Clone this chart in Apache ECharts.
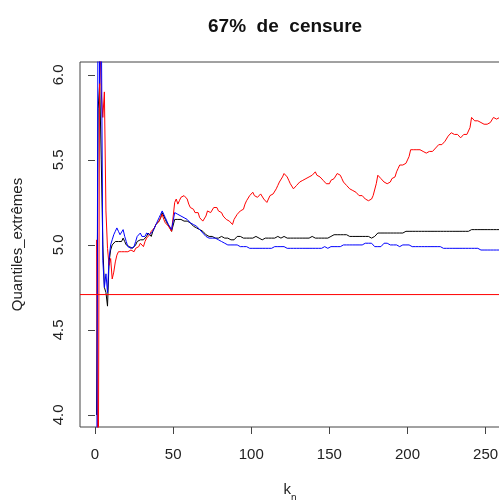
<!DOCTYPE html>
<html>
<head>
<meta charset="utf-8">
<script src="https://cdn.jsdelivr.net/npm/echarts@6/dist/echarts.min.js"></script>
<style>
html,body{margin:0;padding:0;background:#fff;}
#chart{width:499px;height:500px;}
</style>
</head>
<body>
<div id="chart"></div>
<script>
var titleText = "67%  de  censure";
var yName = "Quantiles_extrêmes";
var xTicks = [0, 50, 100, 150, 200, 250];
var yTicks = [4.0, 4.5, 5.0, 5.5, 6.0];
var refLevel = 4.708;
var xRange = [-9.6, 259.2];
var yRange = [3.929, 6.076];

var redValues = [
5.03, 3.20, 6.30, 5.90, 5.75, 5.90, 5.20, 4.98, 4.88, 4.92,
4.80, 4.84, 4.90, 4.94, 4.96, 4.96, 4.96, 4.97, 4.96, 4.96,
4.96, 4.96, 4.97, 4.97, 4.96, 4.98, 4.97, 4.99, 5.01, 5.00,
4.99, 5.02, 5.04, 5.03, 5.06, 5.08, 5.07, 5.10, 5.12, 5.11,
5.14, 5.16, 5.18, 5.15, 5.13, 5.14, 5.11, 5.10, 5.08, 5.09,
5.25, 5.27, 5.24, 5.26, 5.28, 5.29, 5.29, 5.28, 5.27, 5.24,
5.22, 5.23, 5.21, 5.19, 5.18, 5.19, 5.16, 5.15, 5.14, 5.14,
5.17, 5.20, 5.21, 5.19, 5.20, 5.22, 5.21, 5.22, 5.20, 5.19,
5.19, 5.17, 5.16, 5.15, 5.16, 5.14, 5.13, 5.12, 5.15, 5.16,
5.18, 5.17, 5.20, 5.19, 5.21, 5.24, 5.26, 5.27, 5.29, 5.30,
5.31, 5.29, 5.30, 5.28, 5.29, 5.30, 5.29, 5.27, 5.26, 5.25,
5.27, 5.29, 5.28, 5.30, 5.31, 5.33, 5.35, 5.37, 5.38, 5.40,
5.42, 5.43, 5.40, 5.38, 5.36, 5.35, 5.33, 5.32, 5.35, 5.36,
5.37, 5.36, 5.38, 5.37, 5.39, 5.38, 5.40, 5.39, 5.41, 5.42,
5.43, 5.41, 5.40, 5.40, 5.39, 5.38, 5.38, 5.36, 5.37, 5.36,
5.38, 5.37, 5.39, 5.40, 5.42, 5.43, 5.41, 5.39, 5.37, 5.36,
5.35, 5.36, 5.33, 5.33, 5.32, 5.32, 5.31, 5.30, 5.29, 5.28,
5.29, 5.28, 5.27, 5.26, 5.26, 5.25, 5.27, 5.29, 5.30, 5.36,
5.41, 5.40, 5.39, 5.38, 5.37, 5.36, 5.36, 5.35, 5.37, 5.39,
5.40, 5.40, 5.43, 5.45, 5.47, 5.46, 5.47, 5.46, 5.48, 5.50,
5.52, 5.56, 5.55, 5.56, 5.57, 5.56, 5.57, 5.56, 5.55, 5.55,
5.54, 5.54, 5.55, 5.55, 5.56, 5.55, 5.56, 5.57, 5.58, 5.59,
5.60, 5.59, 5.60, 5.61, 5.62, 5.64, 5.65, 5.66, 5.66, 5.65,
5.66, 5.65, 5.64, 5.63, 5.64, 5.65, 5.66, 5.65, 5.65, 5.69,
5.75, 5.74, 5.73, 5.72, 5.73, 5.72, 5.72, 5.71, 5.71, 5.71,
5.71, 5.71, 5.72, 5.71, 5.75, 5.74, 5.74, 5.73, 5.75, 5.76,
5.75, 5.76
];

var blackValues = [
4.00, 5.80, 5.95, 5.50, 5.00, 4.75, 4.72, 4.64, 4.90, 4.97,
5.00, 5.01, 5.02, 5.03, 5.02, 5.01, 5.02, 5.04, 5.02, 5.00,
4.99, 4.99, 4.98, 4.98, 4.98, 5.00, 5.02, 5.01, 5.03, 5.02,
5.03, 5.04, 5.05, 5.07, 5.06, 5.05, 5.08, 5.10, 5.12, 5.11,
5.14, 5.16, 5.19, 5.17, 5.15, 5.13, 5.12, 5.10, 5.08, 5.07,
5.15, 5.16, 5.15, 5.14, 5.15, 5.14, 5.14, 5.13, 5.14, 5.13,
5.13, 5.12, 5.11, 5.11, 5.10, 5.10, 5.09, 5.08, 5.08, 5.07,
5.06, 5.06, 5.05, 5.06, 5.05, 5.05, 5.04, 5.05, 5.04, 5.04,
5.05, 5.04, 5.04, 5.03, 5.04, 5.03, 5.03, 5.02, 5.03, 5.04,
5.05, 5.04, 5.05, 5.04, 5.04, 5.03, 5.04, 5.04, 5.04, 5.05,
5.04, 5.04, 5.05, 5.04, 5.04, 5.04, 5.03, 5.04, 5.04, 5.04,
5.04, 5.05, 5.04, 5.04, 5.04, 5.04, 5.05, 5.04, 5.04, 5.04,
5.05, 5.04, 5.04, 5.04, 5.04, 5.04, 5.04, 5.03, 5.04, 5.04,
5.04, 5.04, 5.04, 5.04, 5.04, 5.04, 5.04, 5.04, 5.05, 5.04,
5.04, 5.04, 5.04, 5.04, 5.04, 5.04, 5.04, 5.04, 5.04, 5.04,
5.05, 5.06, 5.06, 5.06, 5.06, 5.06, 5.06, 5.05, 5.06, 5.06,
5.06, 5.06, 5.05, 5.06, 5.05, 5.05, 5.05, 5.05, 5.05, 5.05,
5.05, 5.05, 5.05, 5.05, 5.05, 5.04, 5.04, 5.05, 5.05, 5.05,
5.07, 5.07, 5.07, 5.07, 5.07, 5.07, 5.07, 5.07, 5.07, 5.07,
5.07, 5.07, 5.07, 5.07, 5.07, 5.08, 5.07, 5.08, 5.08, 5.08,
5.08, 5.08, 5.08, 5.08, 5.08, 5.08, 5.08, 5.08, 5.08, 5.08,
5.08, 5.08, 5.08, 5.08, 5.08, 5.08, 5.08, 5.08, 5.08, 5.08,
5.08, 5.08, 5.08, 5.08, 5.08, 5.08, 5.08, 5.08, 5.08, 5.08,
5.08, 5.08, 5.08, 5.08, 5.08, 5.08, 5.08, 5.07, 5.08, 5.09,
5.09, 5.09, 5.09, 5.09, 5.09, 5.09, 5.09, 5.09, 5.09, 5.09,
5.09, 5.09, 5.09, 5.09, 5.09, 5.08, 5.09, 5.09, 5.09, 5.09,
5.09, 5.09
];

var blueValues = [
3.00, 6.80, 5.95, 6.40, 4.91, 4.75, 4.83, 4.72, 4.92, 5.00,
5.03, 5.06, 5.08, 5.10, 5.08, 5.06, 5.07, 5.09, 5.05, 5.02,
4.99, 4.99, 4.98, 4.98, 4.99, 5.02, 5.05, 5.04, 5.07, 5.05,
5.04, 5.05, 5.07, 5.08, 5.06, 5.05, 5.08, 5.10, 5.12, 5.13,
5.16, 5.18, 5.20, 5.18, 5.16, 5.14, 5.12, 5.11, 5.09, 5.08,
5.19, 5.19, 5.18, 5.18, 5.17, 5.17, 5.16, 5.15, 5.15, 5.14,
5.13, 5.12, 5.12, 5.11, 5.11, 5.10, 5.09, 5.08, 5.07, 5.06,
5.05, 5.05, 5.04, 5.04, 5.04, 5.03, 5.04, 5.03, 5.03, 5.02,
5.02, 5.02, 5.01, 5.01, 5.00, 5.00, 5.00, 4.99, 5.00, 5.00,
5.00, 5.00, 4.99, 5.00, 4.99, 4.99, 4.99, 4.98, 4.98, 4.98,
4.98, 4.98, 4.98, 4.99, 4.98, 4.98, 4.98, 4.98, 4.98, 4.98,
4.98, 4.98, 4.98, 4.98, 4.99, 4.99, 4.99, 5.00, 4.99, 4.99,
4.99, 4.99, 4.98, 4.98, 4.98, 4.98, 4.98, 4.98, 4.98, 4.98,
4.98, 4.98, 4.98, 4.98, 4.98, 4.98, 4.98, 4.98, 4.98, 4.98,
4.98, 4.98, 4.98, 4.98, 4.98, 4.98, 4.99, 4.98, 4.98, 4.99,
4.99, 4.99, 4.99, 4.99, 4.99, 4.99, 4.99, 5.00, 5.00, 5.00,
5.00, 5.00, 5.00, 5.00, 5.00, 5.00, 5.00, 5.00, 5.00, 5.00,
5.00, 5.01, 5.01, 5.01, 5.01, 5.01, 5.01, 5.00, 4.99, 4.98,
4.99, 4.98, 4.99, 5.00, 5.01, 5.01, 5.01, 5.00, 5.00, 5.00,
5.00, 5.00, 5.00, 5.00, 4.99, 5.00, 5.00, 4.99, 5.00, 4.99,
5.00, 4.99, 4.99, 5.00, 4.99, 4.99, 4.99, 5.00, 4.99, 4.99,
4.99, 4.99, 4.99, 4.99, 4.99, 4.99, 4.99, 4.99, 4.99, 4.99,
4.99, 4.98, 4.98, 4.99, 4.98, 4.98, 4.98, 4.98, 4.98, 4.98,
4.98, 4.99, 4.98, 4.98, 4.98, 4.98, 4.98, 4.98, 4.98, 4.98,
4.98, 4.98, 4.98, 4.98, 4.98, 4.98, 4.97, 4.98, 4.97, 4.97,
4.97, 4.97, 4.97, 4.97, 4.97, 4.97, 4.97, 4.97, 4.97, 4.97,
4.97, 4.97
];

function toPairs(arr) {
  return arr.map(function (v, i) { return [i + 1, v]; });
}

var chart = echarts.init(document.getElementById('chart'), null, {renderer: 'canvas'});
var fontFam = '"Liberation Sans", Arial, sans-serif';
var axisColor = '#444';

chart.setOption({
  animation: false,
  backgroundColor: '#ffffff',
  title: {
    text: titleText,
    left: 208,
    top: 17,
    padding: 0,
    textStyle: {fontFamily: fontFam, fontSize: 19, fontWeight: 'bold', color: '#111'}
  },
  grid: {
    left: 80, top: 62, width: 420, height: 365,
    show: true, borderColor: axisColor, borderWidth: 1, backgroundColor: 'transparent',
    containLabel: false,
    outerBoundsMode: 'none'
  },
  xAxis: {
    type: 'value',
    min: xRange[0], max: xRange[1],
    name: '{k|k}{n|n}',
    nameLocation: 'middle',
    nameGap: 50,
    nameTextStyle: {
      rich: {
        k: {fontFamily: fontFam, fontSize: 15, color: '#222'},
        n: {fontFamily: fontFam, fontSize: 10, color: '#222', padding: [16, 0, 0, 0]}
      }
    },
    splitLine: {show: false},
    axisLine: {show: false},
    axisTick: {show: true, inside: false, length: 7, customValues: xTicks, lineStyle: {color: axisColor}},
    axisLabel: {customValues: xTicks, margin: 20, fontFamily: fontFam, fontSize: 15, color: '#222'}
  },
  yAxis: {
    type: 'value',
    min: yRange[0], max: yRange[1],
    name: yName,
    nameLocation: 'middle',
    nameRotate: 90,
    nameGap: 55,
    nameTextStyle: {fontFamily: fontFam, fontSize: 15, color: '#222'},
    splitLine: {show: false},
    axisLine: {show: false},
    axisTick: {show: true, inside: false, length: 7, customValues: yTicks, lineStyle: {color: axisColor}},
    axisLabel: {
      customValues: yTicks, rotate: 90, margin: 14,
      fontFamily: fontFam, fontSize: 15, color: '#222',
      formatter: function (v) { return Number(v).toFixed(1); }
    }
  },
  series: [
    {
      name: 'black', type: 'line', data: toPairs(blackValues), showSymbol: false, symbol: 'none',
      itemStyle: {color: '#000000'},
      lineStyle: {color: '#000000', width: 1}, clip: true, z: 2
    },
    {
      name: 'red', type: 'line', data: toPairs(redValues), showSymbol: false, symbol: 'none',
      itemStyle: {color: '#ff0000'},
      lineStyle: {color: '#ff0000', width: 1}, clip: true, z: 3
    },
    {
      name: 'blue', type: 'line', data: toPairs(blueValues), showSymbol: false, symbol: 'none',
      itemStyle: {color: '#0000ff'},
      lineStyle: {color: '#0000ff', width: 1}, clip: true, z: 4
    },
    {
      name: 'reference', type: 'line',
      data: [[xRange[0], refLevel], [xRange[1], refLevel]],
      showSymbol: false, symbol: 'none', silent: true,
      itemStyle: {color: '#ff0000'},
      lineStyle: {color: '#ff0000', width: 1}, clip: true, z: 5
    }
  ]
});
</script>
</body>
</html>
